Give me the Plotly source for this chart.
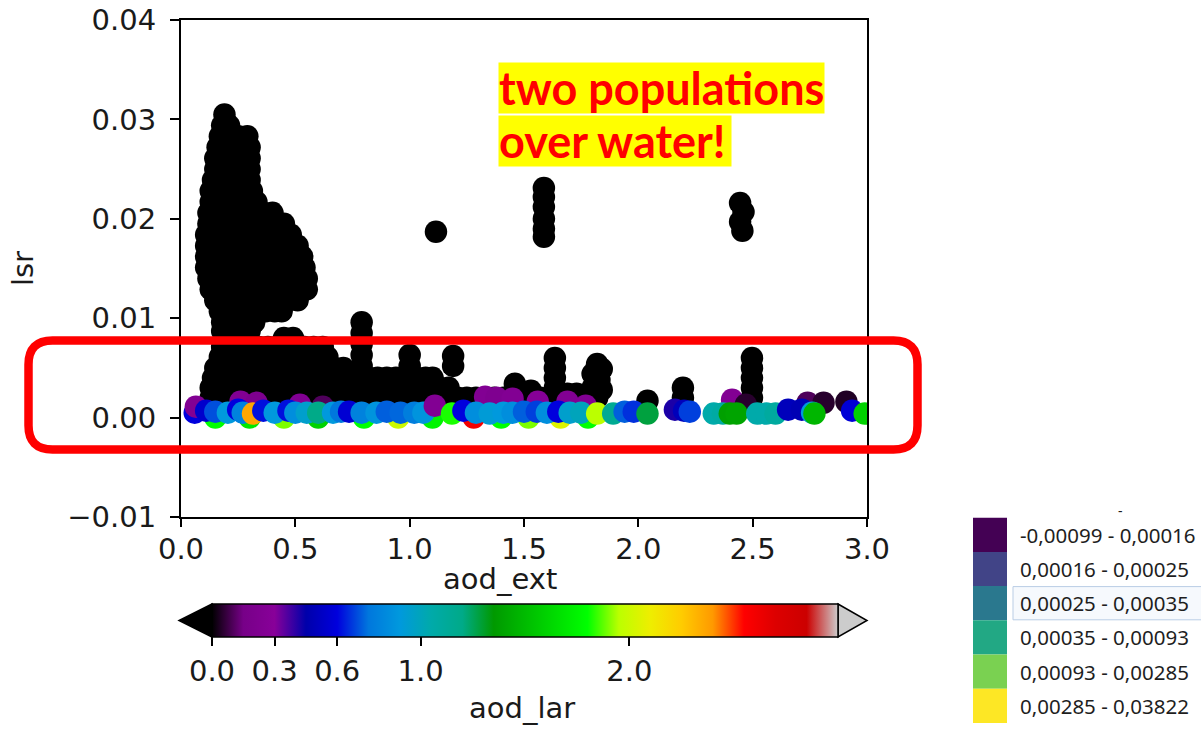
import plotly.graph_objects as go

# ---------------------------------------------------------------- data
# Main plume of low-aod_lar retrievals: one lsr level per row and the
# aod_ext values observed at that level.
plume_lsr = [0.0305, 0.0294, 0.0283, 0.0272, 0.0261, 0.0250, 0.0239, 0.0228,
             0.0217, 0.0206, 0.0195, 0.0184, 0.0173, 0.0162, 0.0151, 0.0140,
             0.0129, 0.0118, 0.0107, 0.0096, 0.0087]
plume_ext = [
    [0.19],
    [0.18, 0.21],
    [0.17, 0.21, 0.25, 0.29],
    [0.16, 0.20, 0.24, 0.28, 0.30],
    [0.15, 0.19, 0.23, 0.27, 0.30],
    [0.15, 0.19, 0.23, 0.27, 0.30],
    [0.14, 0.18, 0.22, 0.26, 0.30],
    [0.13, 0.17, 0.21, 0.25, 0.29, 0.31],
    [0.13, 0.17, 0.21, 0.25, 0.29, 0.33],
    [0.12, 0.16, 0.20, 0.24, 0.28, 0.32, 0.36, 0.40],
    [0.12, 0.16, 0.20, 0.24, 0.28, 0.32, 0.36, 0.40, 0.45],
    [0.11, 0.15, 0.19, 0.23, 0.27, 0.31, 0.35, 0.39, 0.43, 0.48],
    [0.11, 0.15, 0.19, 0.23, 0.27, 0.31, 0.35, 0.39, 0.43, 0.47, 0.51],
    [0.11, 0.15, 0.19, 0.23, 0.27, 0.31, 0.35, 0.39, 0.43, 0.47, 0.50, 0.53],
    [0.11, 0.15, 0.19, 0.23, 0.27, 0.31, 0.35, 0.39, 0.43, 0.47, 0.51, 0.54],
    [0.12, 0.16, 0.20, 0.24, 0.28, 0.32, 0.36, 0.40, 0.44, 0.48, 0.52, 0.55],
    [0.13, 0.17, 0.21, 0.25, 0.29, 0.33, 0.37, 0.41, 0.45, 0.49, 0.53, 0.55],
    [0.15, 0.19, 0.23, 0.27, 0.31, 0.35, 0.39, 0.43, 0.47, 0.51],
    [0.17, 0.21, 0.25, 0.29, 0.33, 0.37, 0.41, 0.44],
    [0.18, 0.22, 0.26, 0.30, 0.32],
    [0.18, 0.22, 0.26, 0.30],
]

# Low-lsr band of the same population, level by level.
band_lsr = [0.0080, 0.0071, 0.0061, 0.0050, 0.0040, 0.0030, 0.0020]
band_ext = [
    [0.45, 0.49],
    [0.18, 0.22, 0.26, 0.30, 0.34, 0.38, 0.42, 0.46, 0.50, 0.54, 0.58, 0.62],
    [0.17, 0.21, 0.25, 0.29, 0.33, 0.37, 0.41, 0.45, 0.49, 0.53, 0.57, 0.61,
     0.64],
    [0.15, 0.19, 0.23, 0.27, 0.31, 0.35, 0.39, 0.43, 0.47, 0.51, 0.55, 0.59,
     0.63, 0.67, 0.71],
    [0.14, 0.18, 0.22, 0.26, 0.30, 0.34, 0.38, 0.42, 0.46, 0.50, 0.54, 0.58,
     0.62, 0.66, 0.70, 0.74, 0.78, 0.82, 0.86, 0.90, 0.94, 0.98, 1.03, 1.07,
     1.10],
    [0.13, 0.17, 0.21, 0.25, 0.29, 0.33, 0.37, 0.41, 0.45, 0.49, 0.53, 0.57,
     0.61, 0.65, 0.69, 0.73, 0.77, 0.81, 0.85, 0.89, 0.93, 0.97, 1.01, 1.05,
     1.09, 1.13, 1.17],
    [0.13, 0.17, 0.21, 0.25, 0.29, 0.33, 0.37, 0.41, 0.45, 0.49, 0.53, 0.57,
     0.61, 0.65, 0.69, 0.73, 0.77, 0.81, 0.85, 0.89, 0.93, 0.97, 1.01, 1.05,
     1.09, 1.13, 1.17, 1.21, 1.25, 1.29, 1.33, 1.37, 1.41, 1.45],
]

# Isolated stacks and bumps of the low-aod_lar population (aod_ext, lsr).
stack_points = [
    (0.79, 0.0096), (0.79, 0.0085), (0.79, 0.0074), (0.79, 0.0063), (0.79, 0.0052),
    (1.00, 0.0063), (1.00, 0.0052), (1.19, 0.0062), (1.19, 0.0052),
    (1.46, 0.0034), (1.50, 0.0025), (1.53, 0.0027), (1.57, 0.0020),
    (1.635, 0.0060), (1.635, 0.0050), (1.635, 0.0040), (1.635, 0.0030), (1.635, 0.0020),
    (1.69, 0.0024), (1.73, 0.0024), (1.76, 0.0018),
    (1.80, 0.0044), (1.82, 0.0054), (1.84, 0.0049), (1.83, 0.0038),
    (1.80, 0.0030), (1.84, 0.0028), (1.82, 0.0020),
    (2.04, 0.0017), (2.195, 0.0030), (2.195, 0.0020),
    (2.497, 0.0060), (2.497, 0.0050), (2.497, 0.0040), (2.497, 0.0030), (2.497, 0.0020),
    (1.115, 0.0187),
    (1.587, 0.0231), (1.587, 0.0222), (1.587, 0.0212), (1.587, 0.0200),
    (1.587, 0.0190), (1.587, 0.0182),
    (2.445, 0.0216), (2.46, 0.0207), (2.445, 0.0197), (2.455, 0.0188),
]

# Second population near lsr = 0, coloured by aod_lar (aod_ext, lsr, aod_lar).
water_points = [
    # partly hidden back row
    (0.26, 0.0016, 0.25), (0.33, 0.0015, 0.20), (0.52, 0.0013, 0.25),
    (0.62, 0.0011, 0.10), (1.33, 0.0021, 0.25), (1.38, 0.0020, 0.22),
    (1.45, 0.0019, 0.25), (1.56, 0.0016, 0.28), (1.69, 0.0016, 0.25),
    (1.77, 0.0012, 0.25), (2.41, 0.0018, 0.25), (2.47, 0.0013, 0.05),
    (2.74, 0.0015, 0.10), (2.81, 0.0015, 0.05), (2.91, 0.0016, 0.04),
    # lowest retrievals, mostly covered
    (0.15, 0.0000, 1.80), (0.30, 0.0000, 1.70), (0.45, 0.0000, 1.90),
    (0.60, 0.0000, 1.60), (0.80, 0.0000, 1.80), (0.95, 0.0000, 2.00),
    (1.10, 0.0000, 1.75), (1.28, 0.0000, 2.60), (1.40, 0.0000, 1.80),
    (1.52, 0.0000, 1.90), (1.66, 0.0000, 2.05), (1.78, 0.0000, 1.80),
    # front row
    (0.06, 0.0005, 0.60), (0.065, 0.0011, 0.25), (0.11, 0.0007, 0.55),
    (0.15, 0.0006, 0.70), (0.205, 0.0005, 0.90), (0.25, 0.0008, 0.60),
    (0.27, 0.0005, 0.80), (0.315, 0.0004, 2.36), (0.36, 0.0007, 0.62),
    (0.41, 0.0005, 0.90), (0.47, 0.0007, 0.62), (0.50, 0.0005, 0.85),
    (0.55, 0.0005, 0.95), (0.60, 0.0005, 1.20), (0.665, 0.0005, 0.90),
    (0.70, 0.0006, 0.75), (0.735, 0.0006, 0.57), (0.79, 0.0005, 0.80),
    (0.855, 0.0005, 0.88), (0.90, 0.0006, 0.72), (0.96, 0.0005, 0.73),
    (1.02, 0.0005, 0.78), (1.06, 0.0005, 0.88), (1.11, 0.0012, 0.25),
    (1.185, 0.0004, 1.82), (1.235, 0.0007, 0.60), (1.29, 0.0005, 0.85),
    (1.35, 0.0004, 0.92), (1.41, 0.0005, 0.90), (1.45, 0.0005, 0.85),
    (1.50, 0.0006, 0.72), (1.556, 0.0006, 0.68), (1.60, 0.0005, 0.85),
    (1.65, 0.0006, 0.60), (1.70, 0.0005, 0.95), (1.75, 0.0005, 1.00),
    (1.82, 0.0004, 1.95), (1.89, 0.0004, 1.15), (1.94, 0.0006, 0.72),
    (1.98, 0.0006, 0.66), (2.04, 0.0004, 1.28), (2.16, 0.0008, 0.42),
    (2.20, 0.0007, 0.50), (2.225, 0.0006, 0.68), (2.33, 0.0004, 1.05),
    (2.37, 0.0004, 1.08), (2.40, 0.0004, 1.38), (2.43, 0.0004, 1.40),
    (2.52, 0.0004, 1.05), (2.56, 0.0004, 1.05), (2.60, 0.0004, 1.10),
    (2.655, 0.0008, 0.50), (2.715, 0.0008, 0.48), (2.76, 0.0005, 0.90),
    (2.77, 0.0004, 1.48), (2.935, 0.0007, 0.58), (2.99, 0.0004, 1.60),
]

colorbar_ticks = [0.0, 0.3, 0.6, 1.0, 2.0]
x_ticks = [0.0, 0.5, 1.0, 1.5, 2.0, 2.5, 3.0]
y_ticks = [-0.01, 0.0, 0.01, 0.02, 0.03, 0.04]

class_labels = ["-0,00099 - 0,00016", "0,00016 - 0,00025", "0,00025 - 0,00035",
                "0,00035 - 0,00093", "0,00093 - 0,00285", "0,00285 - 0,03822"]
class_colors = ["#440154", "#414487", "#2a788e", "#22a884", "#7ad151", "#fde725"]

# ---------------------------------------------------------------- colour map
# nipy_spectral anchor colours, evenly spaced from 0 to 1
spectral_rgb = [
    (0.0, 0.0, 0.0), (0.4667, 0.0, 0.5333), (0.5333, 0.0, 0.6),
    (0.0, 0.0, 0.6667), (0.0, 0.0, 0.8667), (0.0, 0.4667, 0.8667),
    (0.0, 0.6, 0.8667), (0.0, 0.6667, 0.6667), (0.0, 0.6667, 0.5333),
    (0.0, 0.6, 0.0), (0.0, 0.7333, 0.0), (0.0, 0.8667, 0.0), (0.0, 1.0, 0.0),
    (0.7333, 1.0, 0.0), (0.9333, 0.9333, 0.0), (1.0, 0.8, 0.0), (1.0, 0.6, 0.0),
    (1.0, 0.0, 0.0), (0.8667, 0.0, 0.0), (0.8, 0.0, 0.0), (0.8, 0.8, 0.8),
]
n_stops = len(spectral_rgb) - 1
colorscale = [[i / n_stops, "rgb(%d,%d,%d)" % tuple(round(c * 255) for c in rgb)]
              for i, rgb in enumerate(spectral_rgb)]

# ---------------------------------------------------------------- geometry
W, H = 1201, 754
PL, PR, PT, PB = 181, 867, 20, 517          # plot area in pixels


def px(xp):
    return (xp - PL) / (PR - PL)


def py(yp):
    return (PB - yp) / (PB - PT)


TICK_FONT = dict(family="DejaVu Sans", size=29, color="#1a1a1a")
MSIZE = 22.5

# ---------------------------------------------------------------- traces
black_x, black_y = [], []
for lev, xs in zip(plume_lsr, plume_ext):
    black_x += xs
    black_y += [lev] * len(xs)
for lev, xs in zip(band_lsr, band_ext):
    black_x += xs
    black_y += [lev] * len(xs)
black_x += [p[0] for p in stack_points]
black_y += [p[1] for p in stack_points]

fig = go.Figure()
fig.add_trace(go.Scatter(
    x=black_x, y=black_y, mode="markers",
    marker=dict(size=MSIZE, color=[0.0] * len(black_x), coloraxis="coloraxis",
                line=dict(width=0)),
    showlegend=False, hoverinfo="skip"))
fig.add_trace(go.Scatter(
    x=[p[0] for p in water_points], y=[p[1] for p in water_points],
    mode="markers",
    marker=dict(size=MSIZE, color=[p[2] for p in water_points],
                coloraxis="coloraxis", line=dict(width=0)),
    showlegend=False))

# colour bar geometry (pixels)
CB_L, CB_R, CB_T, CB_B = 212, 838, 604, 637
CB_TIP_L, CB_TIP_R = 179, 867

fig.update_layout(
    width=W, height=H, autosize=False,
    margin=dict(l=PL, r=W - PR, t=PT, b=H - PB, pad=0, autoexpand=False),
    paper_bgcolor="white", plot_bgcolor="white",
    font=TICK_FONT,
    xaxis=dict(range=[0, 3], tickvals=x_ticks, tickformat=".1f",
               showline=True, linecolor="black", linewidth=2, mirror=True,
               ticks="outside", ticklen=8, tickwidth=2, tickcolor="black",
               showgrid=False, zeroline=False, tickfont=TICK_FONT,
               ticklabelstandoff=-3, automargin=False),
    yaxis=dict(range=[-0.01, 0.04], tickvals=y_ticks, tickformat=".2f",
               showline=True, linecolor="black", linewidth=2, mirror=True,
               ticks="outside", ticklen=9, tickwidth=2, tickcolor="black",
               showgrid=False, zeroline=False, tickfont=TICK_FONT,
               ticklabelstandoff=8, automargin=False,
               title=dict(text="lsr", font=TICK_FONT, standoff=25)),
    coloraxis=dict(
        colorscale=colorscale, cmin=0, cmax=3,
        colorbar=dict(
            orientation="h", thickness=CB_B - CB_T, thicknessmode="pixels",
            len=CB_R - CB_L, lenmode="pixels",
            x=px((CB_L + CB_R) / 2), xanchor="center",
            y=py(CB_T), yanchor="top", xpad=0, ypad=0,
            outlinewidth=1.5, outlinecolor="black",
            tickvals=colorbar_ticks, ticktext=["%.1f" % v for v in colorbar_ticks],
            ticks="outside", ticklen=9, tickwidth=1.5, tickcolor="black",
            tickfont=TICK_FONT),
    ),
)

shapes = []
# extension arrows of the colour bar
mid = (CB_T + CB_B) / 2
shapes.append(dict(type="path", xref="paper", yref="paper", layer="above",
                   path="M %f %f L %f %f L %f %f Z" % (
                       px(CB_L), py(CB_T), px(CB_TIP_L), py(mid), px(CB_L), py(CB_B)),
                   fillcolor="black", line=dict(color="black", width=1.5)))
shapes.append(dict(type="path", xref="paper", yref="paper", layer="above",
                   path="M %f %f L %f %f L %f %f Z" % (
                       px(CB_R), py(CB_T), px(CB_TIP_R), py(mid), px(CB_R), py(CB_B)),
                   fillcolor="#cccccc", line=dict(color="black", width=1.5)))


def rounded_rect(x0, y0, x1, y1, r):
    pts = [
        ("M", (x0 + r, y0)), ("L", (x1 - r, y0)), ("Q", (x1, y0), (x1, y0 + r)),
        ("L", (x1, y1 - r)), ("Q", (x1, y1), (x1 - r, y1)), ("L", (x0 + r, y1)),
        ("Q", (x0, y1), (x0, y1 - r)), ("L", (x0, y0 + r)),
        ("Q", (x0, y0), (x0 + r, y0)),
    ]
    out = []
    for cmd, *coords in pts:
        out.append(cmd + " " + " ".join("%f,%f" % (px(a), py(b)) for a, b in coords))
    return " ".join(out) + " Z"


# red frame around the near-zero lsr band
shapes.append(dict(type="path", xref="paper", yref="paper", layer="above",
                   path=rounded_rect(28.5, 340.5, 917.5, 449.5, 24),
                   line=dict(color="#ff0000", width=8.5)))

# class legend: highlighted row, then swatches
ROW_TOP, ROW_H = 517.7, 34.2
shapes.append(dict(type="rect", xref="paper", yref="paper", layer="above",
                   x0=px(1013), x1=px(1205), y0=py(ROW_TOP + 2 * ROW_H + 0.5),
                   y1=py(ROW_TOP + 3 * ROW_H - 0.5),
                   fillcolor="#f6f9fd", line=dict(color="#b9cde5", width=1)))
for i, col in enumerate(class_colors):
    shapes.append(dict(type="rect", xref="paper", yref="paper", layer="above",
                       x0=px(973), x1=px(1007),
                       y0=py(ROW_TOP + i * ROW_H), y1=py(ROW_TOP + (i + 1) * ROW_H),
                       fillcolor=col, line=dict(width=0)))
fig.update_layout(shapes=shapes)

annotations = []
# axis and colour-bar titles
annotations.append(dict(xref="paper", yref="paper", x=px(500), y=py(579),
                        xanchor="center", yanchor="middle", text="aod_ext",
                        showarrow=False, font=TICK_FONT))
annotations.append(dict(xref="paper", yref="paper", x=px(522), y=py(708),
                        xanchor="center", yanchor="middle", text="aod_lar",
                        showarrow=False, font=TICK_FONT))

LEG_FONT = dict(family="Noto Sans", size=20.5, color="#1e1e1e")
for i, lab in enumerate(class_labels):
    annotations.append(dict(xref="paper", yref="paper", x=px(1018),
                            y=py(ROW_TOP + (i + 0.5) * ROW_H), xanchor="left",
                            yanchor="middle", text=lab, showarrow=False,
                            font=LEG_FONT))
annotations.append(dict(xref="paper", yref="paper", x=px(1120), y=py(510),
                        xanchor="center", yanchor="middle", text="-",
                        showarrow=False,
                        font=dict(family="Noto Sans", size=14, color="#1e1e1e")))

# highlighted call-out, one yellow box per line
NOTE_FONT = dict(family="Lato", size=45, color="#ff0000", weight="bold")
for text, top, width in [("two populations", 62, 325), ("over water!", 115, 232)]:
    annotations.append(dict(xref="paper", yref="paper", x=px(498), y=py(top),
                            xanchor="left", yanchor="top", text=text,
                            showarrow=False, align="left", width=width, height=50,
                            bgcolor="#ffff00", borderpad=0, font=NOTE_FONT))
fig.update_layout(annotations=annotations)

fig.write_html("out.html")
